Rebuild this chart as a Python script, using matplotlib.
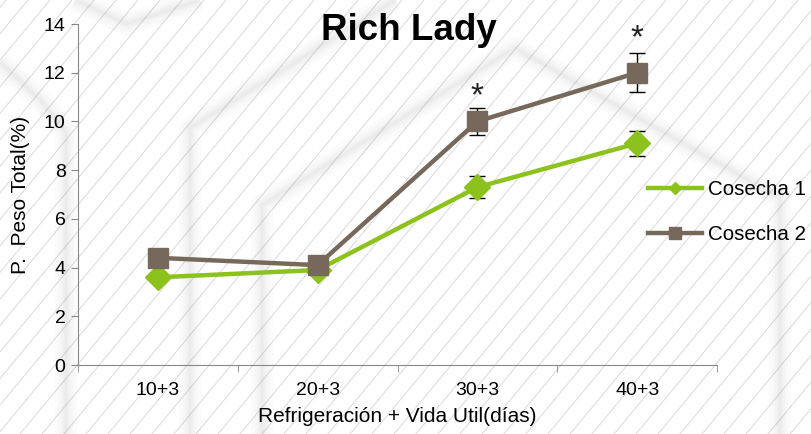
import matplotlib

matplotlib.use("Agg")
import matplotlib.pyplot as plt
from matplotlib.lines import Line2D
import numpy as np

plt.rcParams["font.family"] = ["Liberation Sans", "DejaVu Sans"]

categories = ["10+3", "20+3", "30+3", "40+3"]
cosecha1 = [3.6, 3.9, 7.3, 9.1]
cosecha1_err = [0.0, 0.0, 0.45, 0.5]
cosecha2 = [4.4, 4.1, 10.0, 12.0]
cosecha2_err = [0.0, 0.0, 0.55, 0.8]
star_idx = [2, 3]
star_y = [11.0, 13.4]

GREEN = "#8cc21c"
BROWN = "#76695c"

fig = plt.figure(figsize=(8.11, 4.34), dpi=100)
fig.patch.set_facecolor("white")

# background: diagonal hatch and soft outlines of house shapes
bg = fig.add_axes([0, 0, 1, 1], zorder=-10)
bg.set_xlim(0, 811)
bg.set_ylim(434, 0)
bg.axis("off")
for x0 in np.arange(-420, 811, 22):
    bg.plot([x0, x0 + 360], [434, 0], color="#d9d9d9", lw=0.7)

outlines = [
    [(0, 62), (40, 100), (66, 132), (66, 434)],
    [(75, 0), (127, 24), (200, 0)],
    [(190, 434), (190, 128), (395, 0)],
    [(262, 434), (262, 205), (515, 48), (780, 198), (780, 434)],
]
for pts in outlines:
    xs, ys = zip(*pts)
    for w in [16, 11, 7, 4, 2]:
        bg.plot(xs, ys, color="#9a9a9a", lw=w, alpha=0.04, solid_joinstyle="round", solid_capstyle="butt")

ax = fig.add_axes([78 / 811, 1 - 365 / 434, (717 - 78) / 811, (365 - 24) / 434])
ax.patch.set_alpha(0)
x = np.arange(len(categories))

ax.errorbar(x, cosecha1, yerr=cosecha1_err, color=GREEN, lw=3.2, marker="D", markersize=13,
            ecolor="black", elinewidth=1, capsize=6, capthick=1, zorder=3)
ax.errorbar(x, cosecha2, yerr=cosecha2_err, color=BROWN, lw=3.2, marker="s", markersize=15,
            ecolor="black", elinewidth=1, capsize=6, capthick=1, zorder=4)
for i, yv in zip(star_idx, star_y):
    ax.text(x[i], yv, "*", ha="center", va="center", fontsize=24, color="#222222")

ax.set_xlim(-0.5, len(categories) - 0.5)
ax.set_ylim(0, 14)
ax.set_yticks(range(0, 15, 2))
ax.set_xticks(x)
ax.set_xticklabels(categories)
ax.set_xticks(np.arange(-0.5, len(categories), 1.0), minor=True)
ax.tick_params(axis="x", which="major", length=0, labelsize=14, pad=12)
ax.tick_params(axis="x", which="minor", length=5, color="#888888")
ax.tick_params(axis="y", length=5, color="#888888", labelsize=14, pad=4)
for side in ["top", "right"]:
    ax.spines[side].set_visible(False)
for side in ["left", "bottom"]:
    ax.spines[side].set_color("#888888")

ax.set_xlabel("Refrigeración + Vida Util(días)", fontsize=15, labelpad=6)
ax.set_ylabel("P.  Peso Total(%)", fontsize=15, labelpad=10)

fig.text(409 / 811, 1 - 40 / 434, "Rich Lady", ha="center", va="baseline", fontsize=26.5, fontweight="bold")

handles = [
    Line2D([], [], color=GREEN, lw=3.2, marker="D", markersize=6),
    Line2D([], [], color=BROWN, lw=3.2, marker="s", markersize=9),
]
fig.legend(handles, ["Cosecha 1", "Cosecha 2"], loc="center left",
           bbox_to_anchor=(648 / 811, 1 - 212 / 434), frameon=False, fontsize=14.8,
           borderaxespad=0, borderpad=0, handlelength=2.65, handletextpad=0.25, labelspacing=1.25)

fig.savefig("out.png", dpi=100)
